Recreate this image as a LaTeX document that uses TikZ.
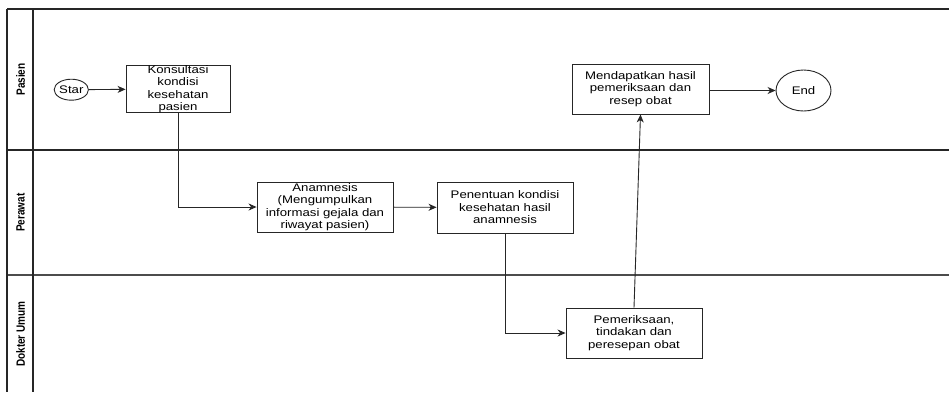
\documentclass[tikz,border=0pt]{standalone}
\usepackage{fontspec}
\setmainfont[FakeStretch=1.2]{Liberation Sans}
\newfontfamily\lanefont{Liberation Sans}
\usetikzlibrary{arrows.meta,shapes.geometric}
\newcommand{\lanetext}[1]{\scalebox{1}[1.2]{\lanefont\bfseries\fontsize{10}{12}\selectfont #1}}
\begin{document}
\begin{tikzpicture}[x=1pt,y=-1pt,
  lane/.style={line width=1.1pt,draw=black!85},
  procbox/.style={draw=black!85,line width=0.9pt,align=center,inner sep=0pt,
    font=\fontsize{11}{12.5}\selectfont},
  terminal/.style={ellipse,draw=black!85,line width=0.9pt,inner sep=0pt,
    font=\fontsize{11}{12.5}\selectfont},
  flow/.style={draw=black!85,line width=0.9pt,-{Stealth[length=8pt,width=7pt,inset=2.5pt]}},
  lanelabel/.style={rotate=90,inner sep=0pt}]
\useasboundingbox (0,0) rectangle (949,392);
\fill[white] (0,0) rectangle (949,392);

% swimlane frame
\draw[lane] (7,9) -- (949,9);
\draw[lane] (7,150) -- (949,150);
\draw[lane,draw=black!70] (7,275) -- (949,275);
\draw[lane] (7,9) -- (7,392);
\draw[lane] (33,9) -- (33,392);

% lane titles
\node[lanelabel] (lp) at (20.5,79.5) {\lanetext{Pasien}};
\node[lanelabel] (lw) at (20.5,212.5) {\lanetext{Perawat}};
\node[lanelabel] (ld) at (20.5,334) {\lanetext{Dokter Umum}};

% Pasien lane
\node[terminal,minimum width=34pt,minimum height=21pt] (start) at (71.3,89.7) {Star};
\node[procbox,minimum width=104pt,minimum height=44pt] (kons) at (178,89)
  {Konsultasi\\kondisi\\kesehatan\\pasien};
\node[procbox,minimum width=137pt,minimum height=50pt] (mend) at (640.5,89)
  {Mendapatkan hasil\\pemeriksaan dan\\resep obat};
\node[terminal,minimum width=55pt,minimum height=41pt] (end) at (803.5,90.5) {End};

% Perawat lane
\node[procbox,minimum width=136pt,minimum height=50pt] (anam) at (325,207)
  {Anamnesis\\(Mengumpulkan\\informasi gejala dan\\riwayat pasien)};
\node[procbox,minimum width=136pt,minimum height=51pt] (pen) at (505,207.5)
  {Penentuan kondisi\\kesehatan hasil\\anamnesis};

% Dokter Umum lane
\node[procbox,minimum width=136pt,minimum height=50pt] (pem) at (634,333)
  {Pemeriksaan,\\tindakan dan\\peresepan obat};

% flow
\draw[flow] (start) -- (kons);
\draw[flow] (kons.south) |- (anam.west);
\draw[flow] (anam) -- (pen);
\draw[flow] (pen.south) |- (pem.west);
\draw[flow] (pem.north) -- (mend.south);
\draw[flow] (mend.east |- end.west) -- (end.west);
\end{tikzpicture}
\end{document}
